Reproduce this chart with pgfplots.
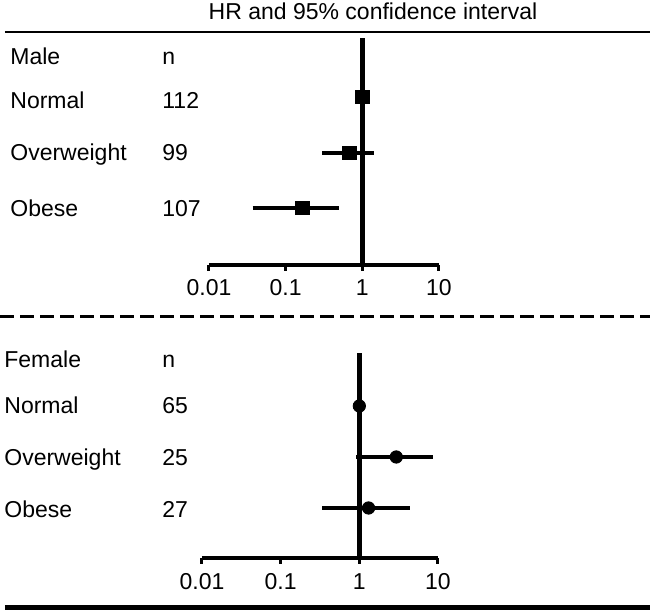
\documentclass[border=0pt]{standalone}
\usepackage{fontspec}
\setmainfont{Liberation Sans}
\usepackage{pgfplots}
\pgfplotsset{compat=1.18}
\begin{document}
\begin{tikzpicture}[every node/.style={font=\fontsize{11.5}{13}\selectfont}]
\path[use as bounding box] (0pt,0pt) rectangle (325pt,305pt);
% rules
\draw[line width=1.2pt] (2.5pt,289pt) -- (325pt,289pt);
\draw[line width=1.5pt, dash pattern=on 7pt off 3pt] (0pt,146.5pt) -- (325pt,146.5pt);
\draw[line width=2.5pt] (2.5pt,1.25pt) -- (325pt,1.25pt);
% title
\node[anchor=base, inner sep=0pt] at (186.5pt,295pt) {HR and 95\% confidence interval};
% male labels
\node[anchor=base west, inner sep=0pt] at (5pt,272.5pt) {Male};
\node[anchor=base west, inner sep=0pt] at (81pt,272.5pt) {n};
\node[anchor=base west, inner sep=0pt] at (5pt,250.5pt) {Normal};
\node[anchor=base west, inner sep=0pt] at (81pt,250.5pt) {112};
\node[anchor=base west, inner sep=0pt] at (5pt,224.5pt) {Overweight};
\node[anchor=base west, inner sep=0pt] at (81pt,224.5pt) {99};
\node[anchor=base west, inner sep=0pt] at (5pt,196.5pt) {Obese};
\node[anchor=base west, inner sep=0pt] at (81pt,196.5pt) {107};
% female labels
\node[anchor=base west, inner sep=0pt] at (2pt,121pt) {Female};
\node[anchor=base west, inner sep=0pt] at (81pt,121pt) {n};
\node[anchor=base west, inner sep=0pt] at (2pt,98pt) {Normal};
\node[anchor=base west, inner sep=0pt] at (81pt,98pt) {65};
\node[anchor=base west, inner sep=0pt] at (2pt,72pt) {Overweight};
\node[anchor=base west, inner sep=0pt] at (81pt,72pt) {25};
\node[anchor=base west, inner sep=0pt] at (2pt,46pt) {Obese};
\node[anchor=base west, inner sep=0pt] at (81pt,46pt) {27};
% male panel
\begin{axis}[xmode=log, scale only axis, xmin=0.01, xmax=10, ymin=0, ymax=227, clip=false,
  axis x line*=bottom, axis y line=none,
  xtick={0.01,0.1,1,10}, xticklabels={0.01,0.1,1,10}, xminorticks=false,
  /pgf/number format/assume math mode=true,
  tick align=outside, major tick length=3pt,
  axis line style={line width=1.8pt, black},
  every tick/.style={line width=1.5pt, black},
  xticklabel style={anchor=base, yshift=-12.5pt},
  anchor=south west, at={(104.5pt,172.5pt)}, width=115pt, height=113.5pt]
\addplot[black, line width=2.4pt] coordinates {(1,0) (1,227)};
\addplot[black, line width=2.2pt] coordinates {(0.30,112) (1.43,112)};
\addplot[black, line width=2.2pt] coordinates {(0.037,57) (0.50,57)};
\addplot[only marks, mark=square*, mark size=3.4pt, black] coordinates {(1.0,168) (0.68,112) (0.166,57)};
\end{axis}
% female panel
\begin{axis}[xmode=log, scale only axis, xmin=0.01, xmax=10, ymin=0, ymax=205, clip=false,
  axis x line*=bottom, axis y line=none,
  xtick={0.01,0.1,1,10}, xticklabels={0.01,0.1,1,10}, xminorticks=false,
  /pgf/number format/assume math mode=true,
  tick align=outside, major tick length=3pt,
  axis line style={line width=1.8pt, black},
  every tick/.style={line width=1.5pt, black},
  xticklabel style={anchor=base, yshift=-13pt},
  anchor=south west, at={(101pt,26pt)}, width=118pt, height=102.5pt]
\addplot[black, line width=2.4pt] coordinates {(1,0) (1,205)};
\addplot[black, line width=2.2pt] coordinates {(0.92,101) (8.7,101)};
\addplot[black, line width=2.2pt] coordinates {(0.34,50) (4.45,50)};
\addplot[only marks, mark=*, mark size=3.1pt, black] coordinates {(1.0,152) (2.95,101) (1.31,50)};
\end{axis}
\end{tikzpicture}
\end{document}
